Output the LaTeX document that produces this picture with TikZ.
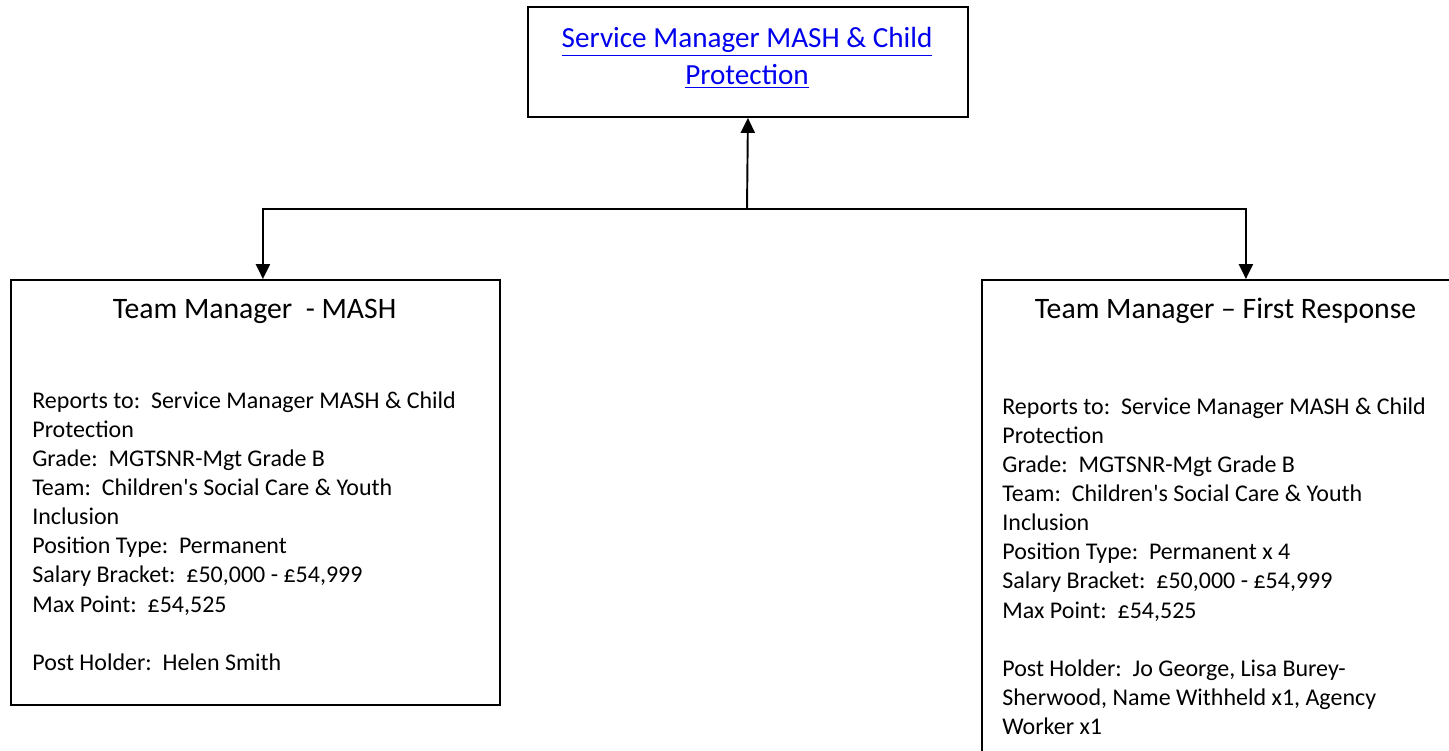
\documentclass[tikz,border=0pt]{standalone}
\usepackage{fontspec}
\setmainfont{Carlito}
\usetikzlibrary{arrows.meta,positioning}
\definecolor{linkblue}{RGB}{0,0,238}
\tikzstyle{postbox} = [draw, line width=1.1pt, inner sep=0pt, anchor=north west]
\tikzstyle{arrow} = [draw, line width=1.1pt, -{Triangle[length=8.5pt,width=8pt]}]
\tikzstyle{posttitle} = [anchor=base, inner sep=0pt, font=\fontsize{16.9}{21}\selectfont]
\tikzstyle{postinfo} = [anchor=base west, inner sep=0pt, font=\fontsize{13.65}{16.6}\selectfont]

\begin{document}
\begin{tikzpicture}[x=0.02cm,y=-0.02cm]
\clip (0,0) rectangle (1449,750);
% boxes
\node (sm) [postbox, minimum width=8.8cm, minimum height=2.2cm] at (527,6) {};
\node (mash) [postbox, minimum width=9.78cm, minimum height=8.5cm] at (10,279) {};
\node (fr) [postbox, minimum width=9.78cm, minimum height=10cm] at (981,279) {};

% texts
\node (smtext) [posttitle, text=linkblue, font=\fontsize{16.6}{21}\selectfont] at (747,48) {\begin{tabular}[t]{@{}c@{}}\underline{Service Manager MASH \& Child}\\\underline{Protection}\end{tabular}};
\node (mashtitle) [posttitle] at (254.5,318) {Team Manager\ \ - MASH};
\node (frtitle) [posttitle] at (1225.5,318) {Team Manager – First Response};

\node (mashinfo) [postinfo] at (32,408) {\begin{tabular}[t]{@{}l@{}}
Reports to:\ \ Service Manager MASH \& Child\\
Protection\\
Grade:\ \ MGTSNR-Mgt Grade B\\
Team:\ \ Children\textquotesingle s Social Care \& Youth\\
Inclusion\\
Position Type:\ \ Permanent\\
Salary Bracket:\ \ £50,000 - £54,999\\
Max Point:\ \ £54,525\\
\\
Post Holder:\ \ Helen Smith
\end{tabular}};

\node (frinfo) [postinfo] at (1002,414) {\begin{tabular}[t]{@{}l@{}}
Reports to:\ \ Service Manager MASH \& Child\\
Protection\\
Grade:\ \ MGTSNR-Mgt Grade B\\
Team:\ \ Children\textquotesingle s Social Care \& Youth\\
Inclusion\\
Position Type:\ \ Permanent x 4\\
Salary Bracket:\ \ £50,000 - £54,999\\
Max Point:\ \ £54,525\\
\\
Post Holder:\ \ Jo George, Lisa Burey-\\
Sherwood, Name Withheld x1, Agency\\
Worker x1
\end{tabular}};

% connectors
\coordinate (split) at (747,209);
\path [arrow] (split) -- (sm.south);
\path [arrow] (split) -| ([xshift=0.15cm]mash.north);
\path [arrow] (split) -| ([xshift=0.39cm]fr.north);
\end{tikzpicture}
\end{document}
